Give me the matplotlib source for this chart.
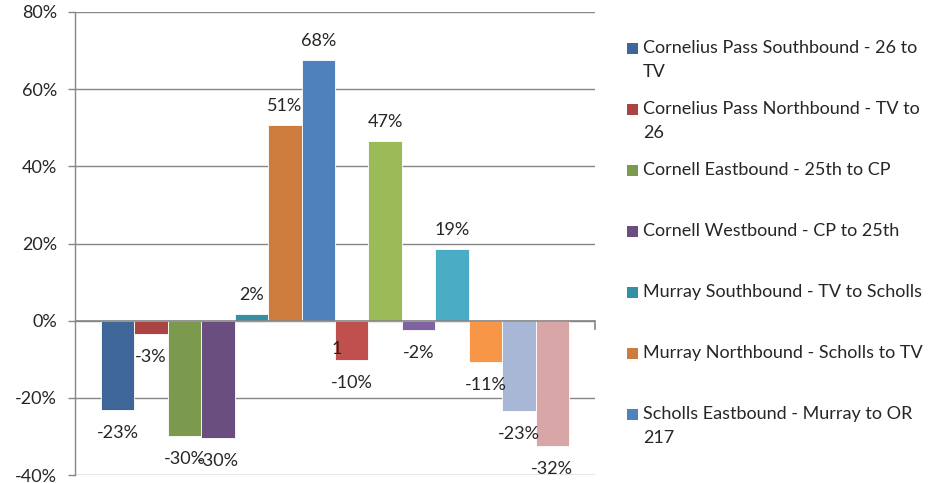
import numpy as np
import matplotlib.pyplot as plt
from matplotlib.patches import Rectangle

# Values (fraction change)
bar_values = [-0.231, -0.034, -0.298, -0.304, 0.017, 0.506, 0.676,
              -0.101, 0.466, -0.024, 0.186, -0.108, -0.234, -0.324]
bar_colors = ['#3F6699', '#AA4443', '#7B9A4E', '#6A4E80', '#3590A6', '#CE7B3E', '#4F81BD',
              '#C0504D', '#9BBB59', '#8064A2', '#4BACC6', '#F79646', '#A8B7D5', '#D9A6A8']
series_names = ['Cornelius Pass Southbound - 26 to\nTV',
                'Cornelius Pass Northbound - TV to\n26',
                'Cornell Eastbound - 25th to CP',
                'Cornell Westbound - CP to 25th',
                'Murray Southbound - TV to Scholls',
                'Murray Northbound - Scholls to TV',
                'Scholls Eastbound - Murray to OR\n217']
legend_colors = bar_colors[:7]
y_ticks = [-0.4, -0.2, 0.0, 0.2, 0.4, 0.6, 0.8]

plt.rcParams['font.family'] = ['Lato', 'DejaVu Sans']
text_color = '#262626'
grid_color = '#868686'
fs = 13

W, H = 941, 483
fig = plt.figure(figsize=(W / 100, H / 100), dpi=100)
ax = fig.add_axes([75 / W, (H - 475) / H, 520 / W, 463 / H])

x = np.arange(len(bar_values))
ax.bar(x, bar_values, width=1.0, color=bar_colors, edgecolor='white', linewidth=0.6, zorder=3)

ax.set_xlim(-1.275, 14.275)
ax.set_ylim(-0.4, 0.8)
ax.set_yticks(y_ticks)
ax.set_yticklabels([f'{t:.0%}' for t in y_ticks], fontsize=fs, color=text_color)
ax.set_xticks([])
ax.tick_params(axis='y', length=5, width=1, color=grid_color, pad=8)
ax.yaxis.grid(True, color=grid_color, linewidth=1, zorder=0)
for side in ['top', 'right', 'bottom']:
    ax.spines[side].set_visible(False)
ax.spines['left'].set_color(grid_color)
ax.spines['left'].set_linewidth(1)
ax.axhline(0, color=grid_color, linewidth=1.2, zorder=4)
# category tick at the right end of the horizontal axis
ax.plot([ax.get_xlim()[1]] * 2, [0, -0.022], color=grid_color, linewidth=1.2,
        clip_on=False, zorder=4)

# data labels
for xi, v in zip(x, bar_values):
    off = 19 if v >= 0 else -23
    ax.annotate(f'{v:.0%}', xy=(xi, v), xytext=(0, off), textcoords='offset pixels',
                ha='center', va='center', fontsize=fs, color=text_color, zorder=5)
# stray label fragment next to the red bar
ax.annotate('1', xy=(x[7] - 0.5, bar_values[7]), xytext=(2, 11), textcoords='offset pixels',
            ha='center', va='center', fontsize=fs, color=text_color, zorder=5)

# legend drawn manually to match spacing
for i, (name, c) in enumerate(zip(series_names, legend_colors)):
    yc = 48 + 61 * i
    fig.add_artist(Rectangle((627 / W, (H - yc - 5.5) / H), 11 / W, 11 / H,
                             transform=fig.transFigure, facecolor=c, edgecolor='none'))
    for j, line in enumerate(name.split('\n')):
        fig.text(643 / W, (H - yc - 24 * j) / H, line, ha='left', va='center',
                 fontsize=fs, color=text_color)

fig.savefig('out.png', dpi=100)
